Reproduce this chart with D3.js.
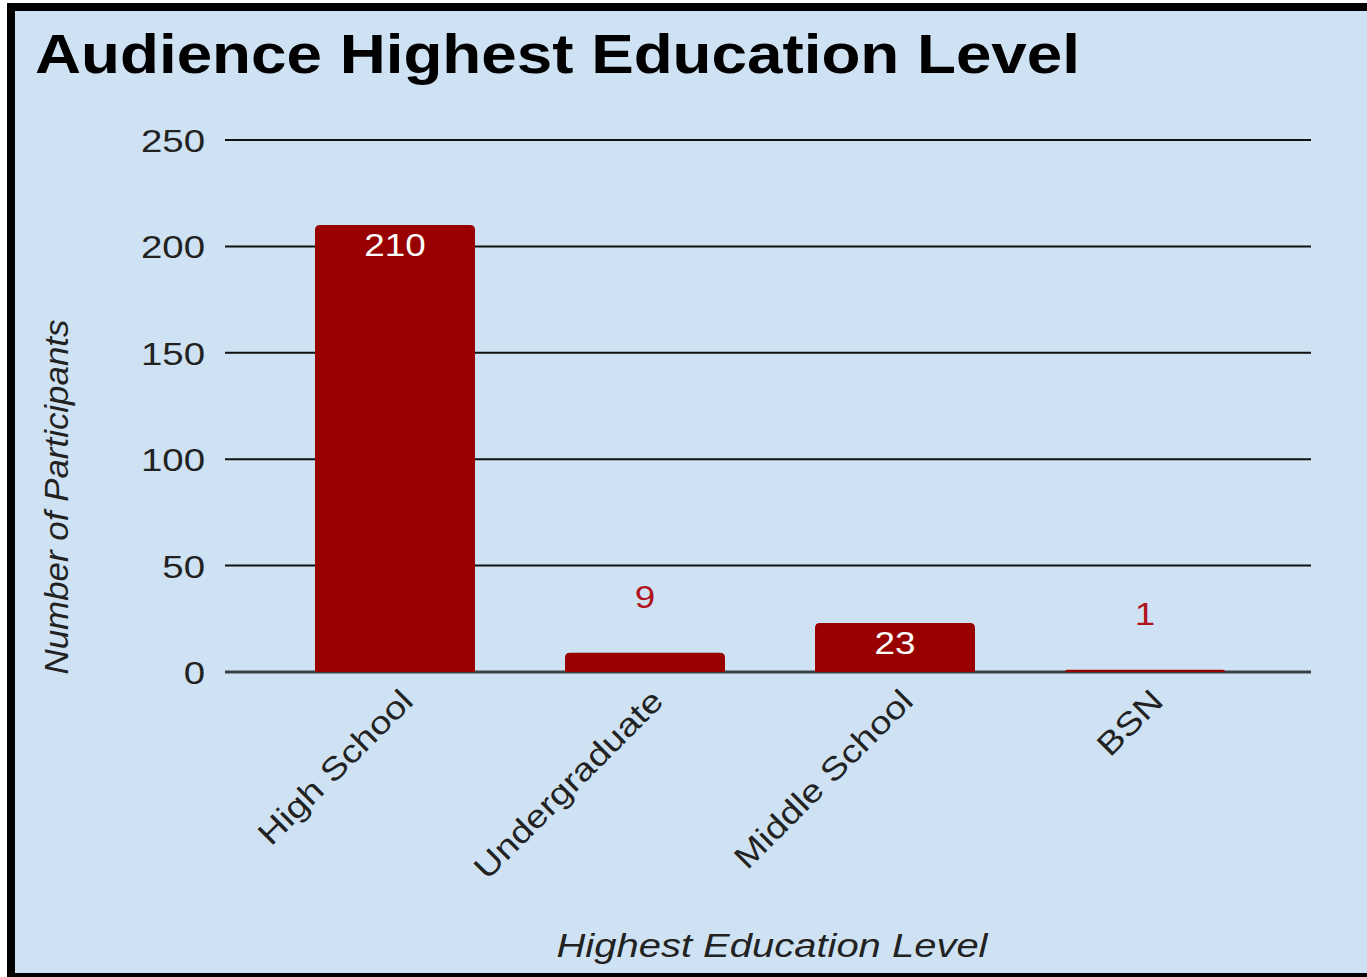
<!DOCTYPE html>
<meta charset="utf-8">
<style>
body { margin: 0; background: #fff; }
text { font-family: Arial, "Liberation Sans", "DejaVu Sans", sans-serif; }
</style>
<body>
<div id="chart"></div>
<script src="https://d3js.org/d3.v7.min.js"></script>
<script>
var levels = ["High School", "Undergraduate", "Middle School", "BSN"];
var counts = [210, 9, 23, 1];
var yTicks = [0, 50, 100, 150, 200, 250];

var W = 1367, H = 977;
var svg = d3.select("#chart").append("svg").attr("width", W).attr("height", H);

// the source image is a bit stretched sideways, so widen text to match
function stretch(sel, k) {
  sel.each(function() {
    var len = this.getComputedTextLength();
    d3.select(this).attr("textLength", len * k).attr("lengthAdjust", "spacingAndGlyphs");
  });
}

// panel with thick black frame on left / top / bottom
svg.append("rect").attr("x", 0).attr("y", 0).attr("width", W).attr("height", H).attr("fill", "#fff");
svg.append("rect").attr("x", 7).attr("y", 3).attr("width", W - 7).attr("height", H - 3).attr("fill", "#000");
svg.append("rect").attr("x", 15).attr("y", 11).attr("width", W - 15).attr("height", H - 15).attr("fill", "#cfe2f3");

svg.append("text").attr("x", 35).attr("y", 73)
  .attr("font-size", 56).attr("font-weight", "bold").attr("fill", "#000")
  .attr("textLength", 1045).attr("lengthAdjust", "spacingAndGlyphs")
  .text("Audience Highest Education Level");

var x = d3.scaleBand().domain(levels).range([270, 1270]).paddingInner(0.36).paddingOuter(0.18);
var y = d3.scaleLinear().domain([0, 250]).range([672, 140]);

// gridlines
svg.append("g").selectAll("line").data(yTicks).join("line")
  .attr("x1", 225).attr("x2", 1311)
  .attr("y1", d => y(d)).attr("y2", d => y(d))
  .attr("stroke", d => d === 0 ? "#3c4348" : "#111")
  .attr("stroke-width", d => d === 0 ? 3 : 2);

// y ticks
svg.append("g").selectAll("text").data(yTicks).join("text")
  .attr("x", 205).attr("y", d => y(d) + 12)
  .attr("text-anchor", "end").attr("font-size", 32).attr("fill", "#222")
  .text(d => d)
  .call(stretch, 1.2);

var r = 5;
function barPath(d, i) {
  var x0 = x(levels[i]), w = x.bandwidth(), y0 = y(0), y1 = y(d);
  var rr = Math.min(r, y0 - y1);
  return "M" + x0 + "," + y0 + "V" + (y1 + rr) + "Q" + x0 + "," + y1 + " " + (x0 + rr) + "," + y1 +
    "H" + (x0 + w - rr) + "Q" + (x0 + w) + "," + y1 + " " + (x0 + w) + "," + (y1 + rr) + "V" + y0 + "Z";
}
svg.append("g").selectAll("path").data(counts).join("path")
  .attr("d", barPath).attr("fill", "#990000");

// value labels: inside when bar is tall enough
svg.append("g").selectAll("text").data(counts).join("text")
  .attr("x", (d, i) => x(levels[i]) + x.bandwidth() / 2)
  .attr("y", d => (y(0) - y(d) > 40) ? y(d) + 31 : y(d) - 45)
  .attr("text-anchor", "middle").attr("font-size", 32)
  .attr("fill", d => (y(0) - y(d) > 40) ? "#fff" : "#b0141c")
  .text(d => d)
  .call(stretch, 1.15);

// x labels rotated
svg.append("g").selectAll("text").data(levels).join("text")
  .attr("transform", d => "translate(" + (x(d) + x.bandwidth() / 2 + 20) + ",703) rotate(-45)")
  .attr("text-anchor", "end").attr("font-size", 32).attr("fill", "#222")
  .text(d => d)
  .call(stretch, 1.18);

svg.append("text").attr("transform", "translate(68,497) rotate(-90)")
  .attr("text-anchor", "middle").attr("font-size", 33).attr("font-style", "italic").attr("fill", "#222")
  .attr("textLength", 355).attr("lengthAdjust", "spacingAndGlyphs")
  .text("Number of Participants");

svg.append("text").attr("x", 772).attr("y", 957)
  .attr("text-anchor", "middle").attr("font-size", 33).attr("font-style", "italic").attr("fill", "#222")
  .attr("textLength", 431).attr("lengthAdjust", "spacingAndGlyphs")
  .text("Highest Education Level");
</script>
</body>
